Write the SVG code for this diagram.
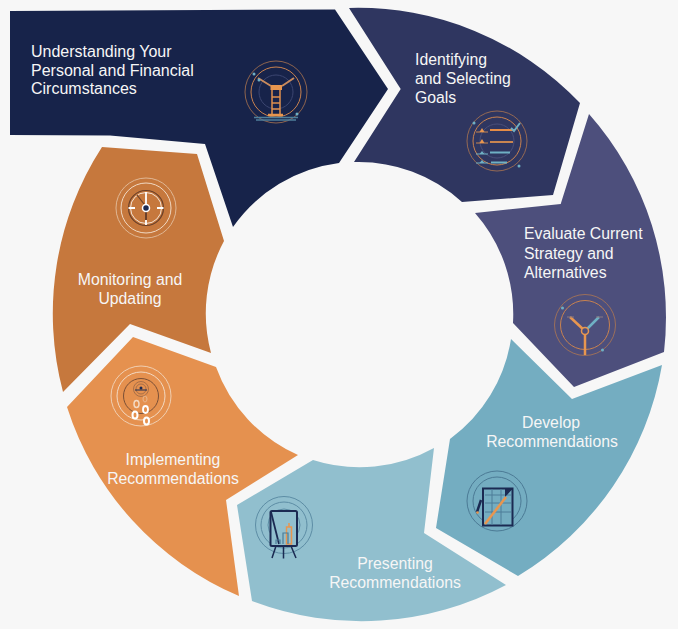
<svg xmlns="http://www.w3.org/2000/svg" width="678" height="629" viewBox="0 0 678 629">
<style>
.t{font-family:"Liberation Sans",Arial,sans-serif;font-size:15.8px;fill:#f6f6f6}
.u{font-size:16px}
.m{text-anchor:middle}
.r{fill:none;stroke-width:1}
.d{stroke:#b5794f;stroke-width:1;opacity:.75}
.e{stroke:#c9824f;stroke-width:1}
.lo{stroke:#e58c46;stroke-width:2;fill:none}
.lb{stroke:#6fb0c4;stroke-width:2;fill:none}
</style>
<rect width="678" height="629" fill="#f7f7f7"/>
<g id="node-understanding">
<path d="M10,11 L335,9.500 L388,89 L339,163 A153,153 0 0 0 233,227 L205,144 L110,135.500 L10,135 Z" fill="#17234a"/>
<text class="t u" x="31" y="57">Understanding Your</text>
<text class="t u" x="31" y="76">Personal and Financial</text>
<text class="t u" x="31" y="94">Circumstances</text>
<g class="r">
<circle cx="276" cy="92" r="31" class="d"/>
<circle cx="276" cy="92" r="25" class="e"/>
<circle cx="276" cy="92" r="17" stroke="#3b4570"/>
</g>
<path d="M270.500,85 H282 V90 H270.500 Z" fill="#e8964f"/>
<path d="M272,90 V115 M280,90 V115 M272,97 H280 M272,103 H280 M272,109 H280" stroke="#e0904e" stroke-width="1.500" fill="none"/>
<path d="M268,115 H283" stroke="#e8964f" stroke-width="2.500"/>
<path d="M271,86 L258,78 M282,86 L294,78" stroke="#c98a5c" stroke-width="2" fill="none"/>
<path d="M254,117.500 H298 M256,120 H296" stroke="#4f7f9a" stroke-width="1.500" fill="none"/>
<circle cx="254" cy="74" r="1.500" fill="#6fb0c4"/><circle cx="297" cy="114" r="1.500" fill="#6fb0c4"/><circle cx="259" cy="80" r="1.500" fill="#6fb0c4"/>
</g>
<g id="node-identifying">
<path d="M349,8 A306.500,306.500 0 0 1 580,103 L553,195 L462,202 A153,153 0 0 0 354,162 L400.700,89 Z" fill="#2f3660"/>
<text class="t" x="415" y="65">Identifying</text>
<text class="t" x="415" y="84">and Selecting</text>
<text class="t" x="415" y="103">Goals</text>
<g class="r">
<circle cx="497" cy="141" r="30" class="d"/>
<circle cx="497" cy="141" r="24" class="e"/>
<circle cx="497" cy="141" r="17" stroke="#4a4f7a"/>
</g>
<path d="M490,130 H515" class="lo"/><path d="M490,142 H513" stroke="#c98550" stroke-width="2"/>
<path d="M490,152.500 H510 M491,162.500 H507" class="lb"/>
<path d="M511,128 L514,131 L520,123" stroke="#6fb0c4" stroke-width="2" fill="none"/>
<path d="M476,132 H488 M476,143 H488" stroke="#c98550" stroke-width="1"/>
<path d="M482,128 L484.500,132 H479.500 Z M482,139 L484.500,143 H479.500 Z" fill="#e8964f"/>
<path d="M476,154 H488 M476,163 H488" stroke="#6fb0c4" stroke-width="1"/>
<path d="M482,151 L484.500,154 H479.500 Z M482,160 L484.500,163 H479.500 Z" fill="#6fb0c4"/>
<circle cx="474" cy="123" r="1.500" fill="#6fb0c4"/><circle cx="519" cy="166" r="1.500" fill="#6fb0c4"/>
</g>
<g id="node-evaluate">
<path d="M589,114 A306.500,306.500 0 0 1 664,352 L574,387 L513,323 A153,153 0 0 0 475,213 L560.700,204 Z" fill="#4d4f7c"/>
<text class="t" x="524" y="239">Evaluate Current</text>
<text class="t" x="524" y="259">Strategy and</text>
<text class="t" x="524" y="278">Alternatives</text>
<g class="r">
<circle cx="585" cy="325" r="30.500" class="d"/>
<circle cx="585" cy="325" r="24.500" class="e"/>
</g>
<path d="M585,331 L570,317" stroke="#e8964f" stroke-width="2.500" fill="none"/>
<path d="M585,331 L599,317" stroke="#6fb0c4" stroke-width="2.500" fill="none"/>
<path d="M585,335 V355" stroke="#e8964f" stroke-width="2.500" fill="none"/>
<circle cx="585" cy="331" r="3.500" fill="#4d4f7c" stroke="#e8964f" stroke-width="1.500"/>
<path d="M567,317 H574 M596,317 H603" stroke="#8d7a80" stroke-width="1"/>
<circle cx="562.500" cy="308" r="1.500" fill="#6fb0c4"/><circle cx="602.500" cy="350" r="1.500" fill="#6fb0c4"/>
</g>
<g id="node-develop">
<path d="M511,339 L572,399 L662,365 A306.500,306.500 0 0 1 518,576 L436,528 L450,439 A153,153 0 0 0 511,339 Z" fill="#74adc1"/>
<text class="t m" x="551" y="428">Develop</text>
<text class="t m" x="552" y="447">Recommendations</text>
<g class="r" opacity=".75">
<circle cx="497" cy="501" r="30" stroke="#3f6a87"/>
<circle cx="497" cy="501" r="24" stroke="#3f6a87"/>
</g>
<path d="M483,488.500 H512.500 V525.500 H483 Z" fill="#74adc1" stroke="#1b2a52" stroke-width="2"/>
<path d="M485,495 H511 M485,503 H511 M485,512 H511 M492,489 V525 M501,489 V525" stroke="#4c7d98" stroke-width="1" fill="none"/>
<path d="M505,489 L512.500,489 L505,497 Z" fill="#1b2a52"/>
<path d="M485,524 L506,497" stroke="#e8964f" stroke-width="2.500" fill="none"/>
<path d="M477,512 L481,500" stroke="#1b2a52" stroke-width="2.500" fill="none"/>
<circle cx="477.500" cy="512.500" r="1.300" fill="#e8964f"/>
</g>
<g id="node-presenting">
<path d="M434,448 L424,533 L506,585 A306.500,306.500 0 0 1 252,601 L237,505 L313,460 A153,153 0 0 0 434,448 Z" fill="#91bfce"/>
<text class="t m" x="395" y="569">Presenting</text>
<text class="t m" x="395" y="588">Recommendations</text>
<g class="r" opacity=".75">
<circle cx="284" cy="525" r="28.500" stroke="#4c7d98"/>
<circle cx="284" cy="525" r="23" stroke="#4c7d98"/>
<circle cx="284" cy="525" r="16" stroke="#4c7d98"/>
</g>
<rect x="270.500" y="511" width="26.500" height="35" rx="1.500" fill="#91bfce" stroke="#1b2a52" stroke-width="2"/>
<path d="M271,512 L279,544" stroke="#1b2a52" stroke-width="1.800" fill="none"/>
<path d="M283.500,546 V558.500 M276,546 L272,558 M291,546 L296,558" stroke="#1b2a52" stroke-width="1.500" fill="none"/>
<rect x="286.500" y="527" width="5" height="17" fill="none" stroke="#e8964f" stroke-width="1.500"/>
<path d="M289,523 V527" stroke="#e8964f" stroke-width="1.500"/>
<path d="M276,544 V540 H280 V544 M283,544 V533 H288 V544" stroke="#4c7d98" stroke-width="1.200" fill="none"/>
</g>
<g id="node-implementing">
<path d="M298,455 L226,500 L239,596 A306.500,306.500 0 0 1 67,407 L133,337 L216,367 A153,153 0 0 0 298,455 Z" fill="#e5914f"/>
<text class="t m" x="173" y="465">Implementing</text>
<text class="t m" x="173" y="484">Recommendations</text>
<g class="r">
<circle cx="141" cy="396" r="30" stroke="#f0cfb2"/>
<circle cx="141" cy="396" r="24" stroke="#f3d9c2"/>
<circle cx="141" cy="396" r="17.500" stroke="#7a4f36"/>
<circle cx="141" cy="389" r="7.500" stroke="#a86f48"/>
<circle cx="141" cy="389" r="5" stroke="#a86f48"/>
</g>
<path d="M135,390 H147" stroke="#1b2a52" stroke-width="1"/>
<circle cx="141" cy="388" r="1.500" fill="#1b2a52"/>
<g fill="#e5914f" stroke="#fff">
<ellipse cx="136.500" cy="404" rx="2.500" ry="3.500" stroke="#f3d9c2" stroke-width="1.500"/>
<ellipse cx="145.500" cy="409.500" rx="2.500" ry="3.500" stroke-width="1.800"/>
<ellipse cx="135" cy="415" rx="2.500" ry="3.500" stroke-width="2"/>
<ellipse cx="146.500" cy="421" rx="2.500" ry="3.500" stroke-width="2"/>
<ellipse cx="145" cy="399" rx="2" ry="3" stroke="#eab68b" stroke-width="1"/>
</g>
</g>
<g id="node-monitoring">
<path d="M102,147 L197,154 L224,241 A153,153 0 0 0 211,353 L130,324 L63,392 A306.500,306.500 0 0 1 102,147 Z" fill="#c6783d"/>
<text class="t m" x="130" y="285">Monitoring and</text>
<text class="t m" x="130" y="304">Updating</text>
<g class="r">
<circle cx="146" cy="208" r="30" stroke="#e0b794"/>
<circle cx="146" cy="208" r="25" stroke="#f0d8c2"/>
<circle cx="146" cy="208" r="17.500" stroke="#6b4029" stroke-width="1.200"/>
<circle cx="146" cy="208" r="15.500" stroke="#f3e3d5"/>
</g>
<path d="M128.500,208 H135 M157,208 H163.500 M146,220 V225 M146,192 V204" stroke="#fff" stroke-width="1.800" fill="none"/>
<path d="M146,212 V220" stroke="#6b4029" stroke-width="2" fill="none"/>
<path d="M137,195 L144,204" stroke="#6b4029" stroke-width="1.200" fill="none"/>
<circle cx="146" cy="208" r="3.500" fill="#1b2a52" stroke="#fff" stroke-width="1.500"/>
</g>
<g id="connectors"/>
</svg>
